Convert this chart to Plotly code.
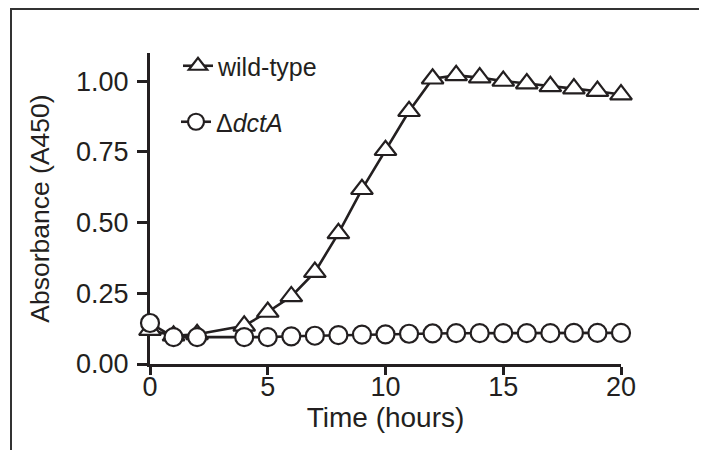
import plotly.graph_objects as go

# ---- data ----
hours = [0, 1, 2, 4, 5, 6, 7, 8, 9, 10, 11, 12, 13, 14, 15, 16, 17, 18, 19, 20]
wild_type = [0.12, 0.10, 0.105, 0.135, 0.184, 0.239, 0.325, 0.462, 0.618, 0.756,
             0.894, 1.009, 1.021, 1.013, 1.001, 0.992, 0.982, 0.974, 0.965, 0.953]
dcta = [0.145, 0.095, 0.095, 0.095, 0.095, 0.098, 0.100, 0.102, 0.104, 0.105,
        0.107, 0.108, 0.109, 0.109, 0.109, 0.109, 0.109, 0.110, 0.110, 0.110]
x_ticks = [0, 5, 10, 15, 20]
y_ticks = [0.0, 0.25, 0.5, 0.75, 1.0]
y_tick_labels = ["0.00", "0.25", "0.50", "0.75", "1.00"]

INK = "#231f20"
FONT = "Liberation Sans, Arial, sans-serif"

# page has an 8px body margin, so figure coords = screen coords - 8
W, H = 707, 450
ML, MT = 142, 45
PW, PH = 471, 311
MR, MB = W - ML - PW, H - MT - PH


def px_x(p):
    return (p - ML) / PW


def px_y(p):
    return (MT + PH - p) / PH


fig = go.Figure()
fig.add_trace(go.Scatter(
    x=hours, y=wild_type, mode="lines+markers", name="wild-type",
    line=dict(color=INK, width=2.6),
    marker=dict(symbol="triangle-up", size=19, color="white",
                line=dict(color=INK, width=2.2)),
    cliponaxis=False, legend="legend",
))
fig.add_trace(go.Scatter(
    x=hours, y=dcta, mode="lines+markers", name="Δ<i>dctA</i>",
    line=dict(color=INK, width=2.6),
    marker=dict(symbol="circle", size=18, color="white",
                line=dict(color=INK, width=2.2)),
    cliponaxis=False, legend="legend2",
))

axis_common = dict(
    showline=True, linecolor=INK, linewidth=3,
    ticks="outside", tickwidth=2.5, tickcolor=INK,
    showgrid=False, zeroline=False, layer="below traces",
    tickfont=dict(family=FONT, size=27, color=INK),
)

fig.update_layout(
    width=W, height=H,
    margin=dict(l=ML, r=MR, t=MT, b=MB, pad=0),
    paper_bgcolor="white", plot_bgcolor="white",
    font=dict(family=FONT, color=INK),
    xaxis=dict(range=[0, 20], tickvals=x_ticks, ticklen=8, ticklabelstandoff=-11,
               title=dict(text="Time (hours)", font=dict(family=FONT, size=28, color=INK), standoff=4),
               **axis_common),
    yaxis=dict(range=[0, 1.1], tickvals=y_ticks, ticktext=y_tick_labels, ticklen=10,
               ticklabelstandoff=3,
               title=dict(text="Absorbance (A450)", font=dict(family=FONT, size=26.5, color=INK), standoff=19),
               **axis_common),
    legend=dict(x=px_x(170), y=px_y(58), xanchor="left", yanchor="middle",
                bgcolor="rgba(0,0,0,0)", borderwidth=0,
                font=dict(family=FONT, size=25, color=INK)),
    legend2=dict(x=px_x(168), y=px_y(114), xanchor="left", yanchor="middle",
                 bgcolor="rgba(0,0,0,0)", borderwidth=0,
                 font=dict(family=FONT, size=25, color=INK)),
    showlegend=True,
    shapes=[
        dict(type="line", xref="paper", yref="paper",
             x0=px_x(3), y0=px_y(H), x1=px_x(3), y1=px_y(0),
             line=dict(color="#333333", width=2)),
        dict(type="line", xref="paper", yref="paper",
             x0=px_x(2), y0=px_y(1), x1=px_x(W), y1=px_y(1),
             line=dict(color="#333333", width=2)),
    ],
)

fig.write_html("out.html")
